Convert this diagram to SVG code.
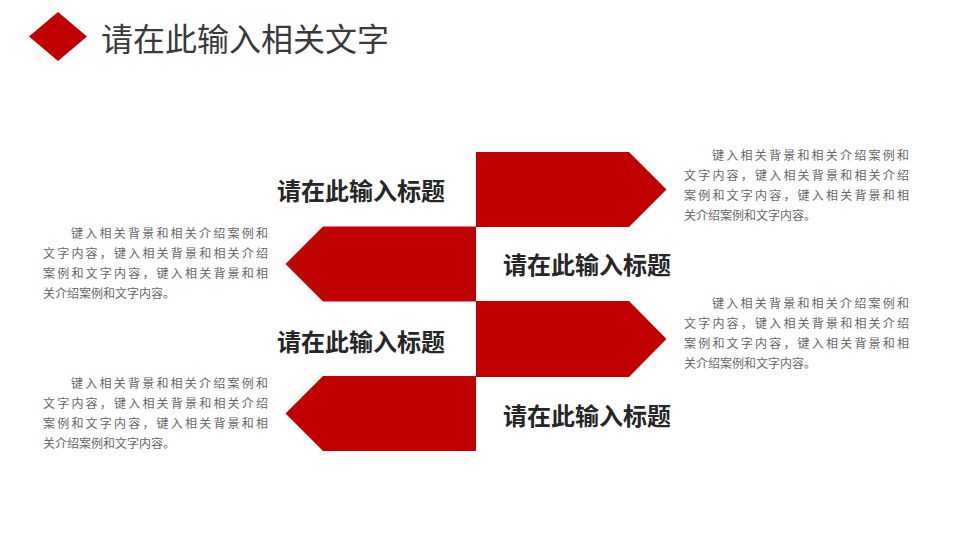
<svg xmlns="http://www.w3.org/2000/svg" width="960" height="540" viewBox="0 0 960 540">
<style>
.arrow{fill:#C00000}
.head{font-family:"Noto Sans CJK SC","Noto Sans",sans-serif;font-size:32px;fill:#3a3a3a}
.title{font-family:"Noto Sans CJK SC","Noto Sans",sans-serif;font-size:24px;font-weight:bold;fill:#262626}
.body{font-family:"Noto Sans CJK SC","Noto Sans",sans-serif;font-size:12px;fill:#666666}
</style>
<rect width="960" height="540" fill="#ffffff"/>
<g id="header">
<polygon points="29,36.5 58,12 87,36.5 58,61" class="arrow"/>
<text x="101" y="51" class="head">请在此输入相关文字</text>
</g>
<g id="item1">
<polygon class="arrow" points="476,152 629,152 666.5,189.5 629,227 476,227"/>
<text x="277" y="200" class="title">请在此输入标题</text>
<text class="body"><tspan x="712" y="159.5" textLength="197" lengthAdjust="spacing">键入相关背景和相关介绍案例和</tspan><tspan x="684" y="179.5" textLength="225" lengthAdjust="spacing">文字内容，键入相关背景和相关介绍</tspan><tspan x="684" y="199.5" textLength="225" lengthAdjust="spacing">案例和文字内容，键入相关背景和相</tspan><tspan x="684" y="219.5">关介绍案例和文字内容。</tspan></text>
</g>
<g id="item2">
<polygon class="arrow" points="476,226.5 323,226.5 285.5,264 323,301.5 476,301.5"/>
<text x="503" y="273.5" class="title">请在此输入标题</text>
<text class="body"><tspan x="71" y="238" textLength="197" lengthAdjust="spacing">键入相关背景和相关介绍案例和</tspan><tspan x="43" y="258" textLength="225" lengthAdjust="spacing">文字内容，键入相关背景和相关介绍</tspan><tspan x="43" y="278" textLength="225" lengthAdjust="spacing">案例和文字内容，键入相关背景和相</tspan><tspan x="43" y="298">关介绍案例和文字内容。</tspan></text>
</g>
<g id="item3">
<polygon class="arrow" points="476,301 629,301 666.5,339 629,377 476,377"/>
<text x="277" y="351" class="title">请在此输入标题</text>
<text class="body"><tspan x="712" y="307.5" textLength="197" lengthAdjust="spacing">键入相关背景和相关介绍案例和</tspan><tspan x="684" y="327.5" textLength="225" lengthAdjust="spacing">文字内容，键入相关背景和相关介绍</tspan><tspan x="684" y="347.5" textLength="225" lengthAdjust="spacing">案例和文字内容，键入相关背景和相</tspan><tspan x="684" y="367.5">关介绍案例和文字内容。</tspan></text>
</g>
<g id="item4">
<polygon class="arrow" points="476,376 323,376 285.5,413.5 323,451 476,451"/>
<text x="503" y="425" class="title">请在此输入标题</text>
<text class="body"><tspan x="71" y="388" textLength="197" lengthAdjust="spacing">键入相关背景和相关介绍案例和</tspan><tspan x="43" y="408" textLength="225" lengthAdjust="spacing">文字内容，键入相关背景和相关介绍</tspan><tspan x="43" y="428" textLength="225" lengthAdjust="spacing">案例和文字内容，键入相关背景和相</tspan><tspan x="43" y="448">关介绍案例和文字内容。</tspan></text>
</g>
<g id="connectors"></g>
</svg>
